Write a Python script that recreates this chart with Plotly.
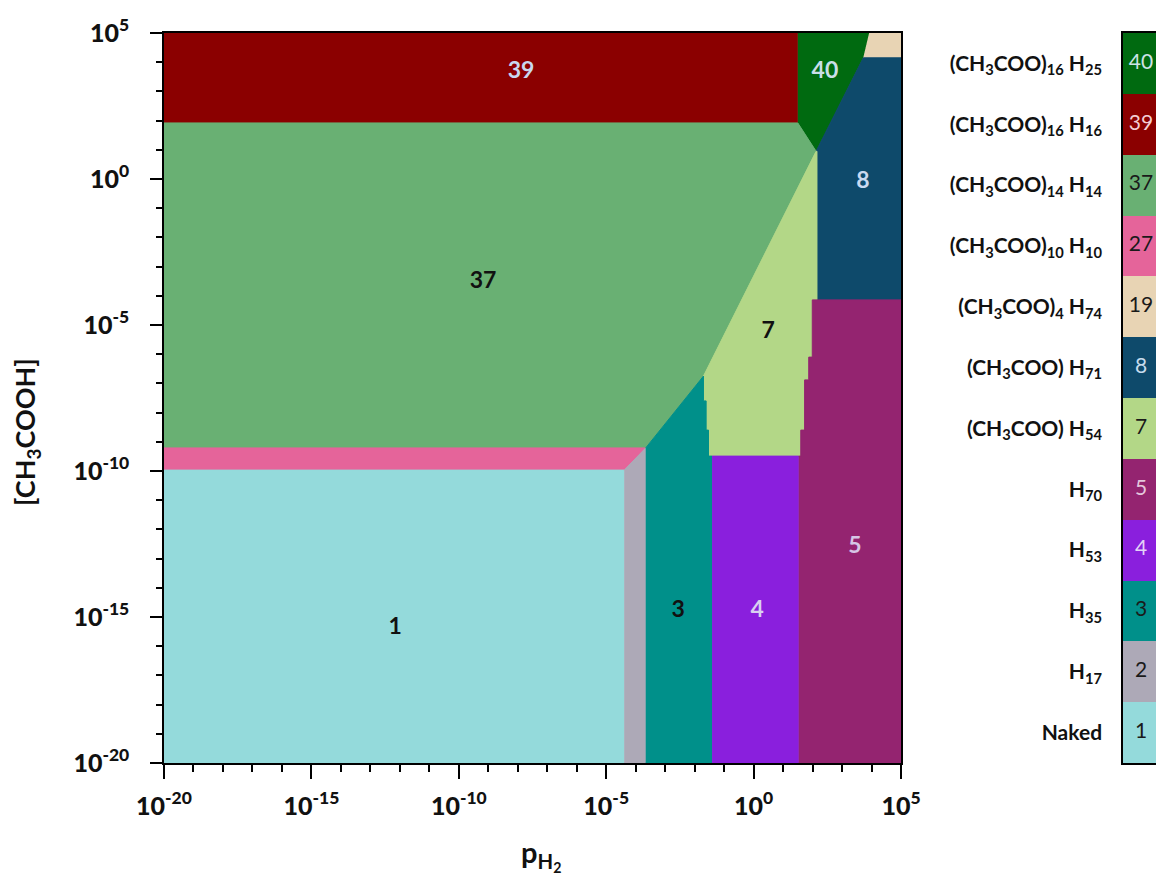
import plotly.graph_objects as go

# ---------------- data (log10 units) ----------------
phase_ids = [1, 2, 3, 4, 5, 7, 8, 19, 27, 37, 39, 40]
phase_names = [
    "Naked", "H<sub>17</sub>", "H<sub>35</sub>", "H<sub>53</sub>", "H<sub>70</sub>",
    "(CH<sub>3</sub>COO) H<sub>54</sub>", "(CH<sub>3</sub>COO) H<sub>71</sub>",
    "(CH<sub>3</sub>COO)<sub>4</sub> H<sub>74</sub>", "(CH<sub>3</sub>COO)<sub>10</sub> H<sub>10</sub>",
    "(CH<sub>3</sub>COO)<sub>14</sub> H<sub>14</sub>", "(CH<sub>3</sub>COO)<sub>16</sub> H<sub>16</sub>",
    "(CH<sub>3</sub>COO)<sub>16</sub> H<sub>25</sub>",
]
phase_colors = ["#94dadb", "#ada9b7", "#00908a", "#8a1fdd", "#942470", "#b3d787",
                "#0e4a6b", "#e8d4b4", "#e5649a", "#69b073", "#8b0000", "#006a10"]
cbar_text_colors = ["#1a1a1a", "#1a1a1a", "#1a1a1a", "#e3d3f7", "#e3c6dc", "#1a1a1a",
                    "#c7dced", "#1a1a1a", "#1a1a1a", "#1a1a1a", "#f3cdd3", "#cde3e6"]

# region boundaries: x = log10(p_H2), y = log10([CH3COOH])
region_x = {
    1: [-20, -4.39, -4.39, -20],
    2: [-4.39, -3.66, -3.66, -4.39],
    3: [-3.66, -1.41, -1.41, -1.53, -1.53, -1.61, -1.61, -1.70, -1.70, -3.66],
    4: [-1.41, 1.53, 1.53, -1.41],
    5: [1.53, 5, 5, 1.99, 1.99, 1.87, 1.87, 1.73, 1.73, 1.60, 1.60, 1.53],
    7: [-1.70, 2.12, 2.15, 2.15, 1.99, 1.99, 1.87, 1.87, 1.73, 1.73, 1.60, 1.60,
        -1.53, -1.53, -1.61, -1.61, -1.70],
    8: [2.12, 3.72, 5, 5, 2.15, 2.15],
    19: [3.92, 5, 5, 3.72],
    27: [-20, -4.39, -3.66, -20],
    37: [-20, 1.50, 2.12, -1.70, -3.66, -20],
    39: [-20, 1.50, 1.50, -20],
    40: [1.50, 3.92, 3.72, 2.12, 1.50],
}
region_y = {
    1: [-20, -20, -9.97, -9.97],
    2: [-20, -20, -9.21, -9.97],
    3: [-20, -20, -9.49, -9.49, -8.60, -8.60, -7.60, -7.60, -6.75, -9.21],
    4: [-20, -20, -9.49, -9.49],
    5: [-20, -20, -4.14, -4.14, -6.10, -6.10, -6.88, -6.88, -8.60, -8.60, -9.49, -9.49],
    7: [-6.75, 0.95, 0.95, -4.14, -4.14, -6.10, -6.10, -6.88, -6.88, -8.60, -8.60, -9.49,
        -9.49, -8.60, -8.60, -7.60, -7.60],
    8: [0.95, 4.15, 4.15, -4.14, -4.14, 0.95],
    19: [5, 5, 4.15, 4.15],
    27: [-9.97, -9.97, -9.21, -9.21],
    37: [1.92, 1.92, 0.95, -6.75, -9.21, -9.21],
    39: [5, 5, 1.92, 1.92],
    40: [5, 5, 4.15, 0.95, 1.92],
}

label_text = ["1", "3", "4", "5", "7", "8", "37", "39", "40"]
label_x = [-12.16, -2.56, 0.12, 3.44, 0.49, 3.71, -9.18, -7.89, 2.42]
label_y = [-15.4, -14.8, -14.8, -12.6, -5.25, -0.1, -3.55, 3.65, 3.65]
label_colors = ["#111111", "#111111", "#d8d0f0", "#d6c6e6", "#111111", "#c9d9f0",
                "#111111", "#c9d7ef", "#c9dfe8"]

tick_vals = [-20, -15, -10, -5, 0, 5]
tick_text = ["10<sup>%d</sup>" % v for v in tick_vals]

FONT = "Lato, 'Open Sans', sans-serif"
color_of = dict(zip(phase_ids, phase_colors))

fig = go.Figure()

draw_order = [39, 40, 19, 37, 8, 7, 27, 1, 2, 3, 4, 5]
for pid in draw_order:
    fig.add_trace(go.Scatter(
        x=region_x[pid], y=region_y[pid], fill="toself", mode="lines",
        fillcolor=color_of[pid], line=dict(color=color_of[pid], width=1),
        hoverinfo="skip", showlegend=False, xaxis="x", yaxis="y"))

fig.add_trace(go.Scatter(
    x=label_x, y=label_y, mode="text", text=label_text,
    textfont=dict(family=FONT, size=23, color=label_colors, weight="bold"),
    hoverinfo="skip", showlegend=False, xaxis="x", yaxis="y"))

# discrete colour key
n = len(phase_ids)
cscale = []
for i, c in enumerate(phase_colors):
    cscale.append([i / n, c])
    cscale.append([(i + 1) / n, c])
fig.add_trace(go.Heatmap(
    z=[[i] for i in range(n)], x=[-0.5, 0.64], y=list(range(n)),
    colorscale=cscale, zmin=-0.5, zmax=n - 0.5, showscale=False,
    hoverinfo="skip", xaxis="x2", yaxis="y2"))
fig.add_trace(go.Scatter(
    x=[0] * n, y=list(range(n)), mode="text", text=[str(p) for p in phase_ids],
    textfont=dict(family=FONT, size=21, color=cbar_text_colors),
    hoverinfo="skip", showlegend=False, xaxis="x2", yaxis="y2"))

# page body adds an 8px offset; figure is sized to fill the rest of the window
OFF = 8
W, H = 1164 - OFF, 882 - OFF
L_PX, R_PX = 164 - OFF, 901 - OFF
TOP, BOT = 33 - OFF, 763 - OFF
PH = BOT - TOP
fig.update_layout(
    width=W, height=H,
    margin=dict(l=0, r=0, t=TOP, b=H - BOT),
    plot_bgcolor="white", paper_bgcolor="white",
    font=dict(family=FONT, color="#111111"),
    xaxis=dict(domain=[L_PX / W, R_PX / W], range=[-20, 5], tickvals=tick_vals,
               ticktext=tick_text, showgrid=False, zeroline=False,
               showline=True, linecolor="black", linewidth=1.5, mirror=True,
               ticks="outside", ticklen=14, tickwidth=1.5, tickcolor="black",
               minor=dict(dtick=1, tick0=0, ticks="outside", ticklen=7,
                          tickwidth=1.5, tickcolor="black"),
               tickfont=dict(family=FONT, size=25, weight=900, color="#111111"),
               ticklabelstandoff=6, automargin=False),
    yaxis=dict(domain=[0, 1], range=[-20, 5], tickvals=tick_vals,
               ticktext=tick_text, showgrid=False, zeroline=False,
               showline=True, linecolor="black", linewidth=1.5, mirror=True,
               ticks="outside", ticklen=12, tickwidth=1.5, tickcolor="black",
               minor=dict(dtick=1, tick0=0, ticks="outside", ticklen=6,
                          tickwidth=1.5, tickcolor="black"),
               tickfont=dict(family=FONT, size=25, weight=900, color="#111111"),
               ticklabelstandoff=16, automargin=False),
    xaxis2=dict(domain=[(1123 - OFF) / W, 1.0], range=[-0.5, 0.64], showticklabels=False,
                showgrid=False, zeroline=False, ticks="", showline=True,
                linecolor="black", linewidth=1.5, mirror=True, anchor="y2",
                automargin=False),
    yaxis2=dict(domain=[0, 1], range=[-0.5, n - 0.5], tickvals=list(range(n)),
                ticktext=phase_names, showgrid=False, zeroline=False, ticks="",
                showline=True, linecolor="black", linewidth=1.5, mirror=False,
                anchor="x2", ticklabelstandoff=15,
                tickfont=dict(family=FONT, size=21, weight="bold", color="#111111"),
                automargin=False),
    annotations=[
        dict(text="[CH<sub>3</sub>COOH]", xref="paper", yref="paper",
             x=(27 - OFF) / W, y=(763 - 432) / PH, textangle=-90, showarrow=False,
             font=dict(family=FONT, size=27, weight="bold", color="#111111"),
             xanchor="center", yanchor="middle"),
        dict(text="p<sub>H<sub>2</sub></sub>", xref="paper", yref="paper",
             x=(541 - OFF) / W, y=(763 - 855) / PH, showarrow=False,
             font=dict(family=FONT, size=29, weight="bold", color="#111111"),
             xanchor="center", yanchor="middle"),
    ],
)

fig.write_html("out.html")
